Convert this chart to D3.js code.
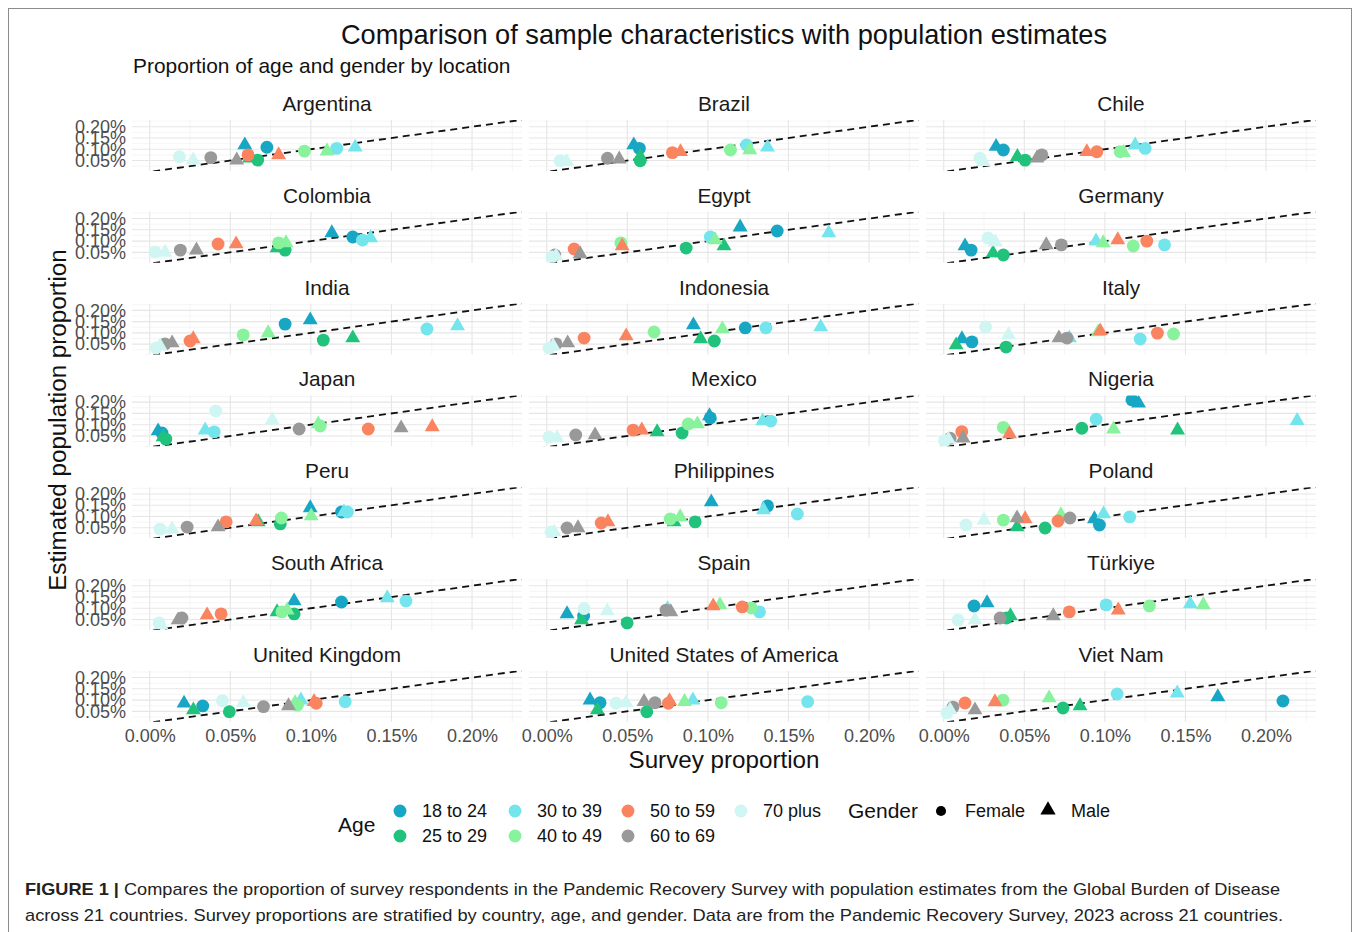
<!DOCTYPE html>
<html>
<head>
<meta charset="utf-8">
<title>Comparison of sample characteristics with population estimates</title>
<script src="https://d3js.org/d3.v7.min.js"></script>
<style>
  body { margin: 0; background: #fff; }
  svg text { font-family: "Liberation Sans", Arial, Helvetica, sans-serif; }
</style>
</head>
<body>
<div id="chart"></div>
<script>
// categories
const countries = ["Argentina", "Brazil", "Chile", "Colombia", "Egypt", "Germany", "India",
  "Indonesia", "Italy", "Japan", "Mexico", "Nigeria", "Peru", "Philippines", "Poland",
  "South Africa", "Spain", "Türkiye", "United Kingdom", "United States of America", "Viet Nam"];
const ageGroups = ["18 to 24", "25 to 29", "30 to 39", "40 to 49", "50 to 59", "60 to 69", "70 plus"];
const ageColors = ["#17a6c4", "#21c27b", "#74e5ec", "#88f29c", "#f9845f", "#999999", "#cff6f3"];
const genders = ["Female", "Male"];
const xTicks = [0, 0.05, 0.10, 0.15, 0.20];
const yTicks = [0.05, 0.10, 0.15, 0.20];

// values in percent, one row per country, columns in ageGroups order
const femaleSurvey = [
  [0.0727, 0.067, 0.116, 0.096, 0.061, 0.0379, 0.0184],
  [0.0575, 0.058, 0.124, 0.114, 0.078, 0.0377, 0.0083],
  [0.037, 0.0505, 0.125, 0.1095, 0.095, 0.0609, 0.0225],
  [0.126, 0.084, 0.132, 0.080, 0.0424, 0.019, 0.0033],
  [0.143, 0.0865, 0.1015, 0.046, 0.017, 0.005, 0.0033],
  [0.017, 0.037, 0.137, 0.1176, 0.126, 0.073, 0.0275],
  [0.084, 0.1077, 0.172, 0.058, 0.025, 0.0095, 0.004],
  [0.1232, 0.104, 0.136, 0.0666, 0.0232, 0.0058, 0.0014],
  [0.0175, 0.0387, 0.1219, 0.1426, 0.1326, 0.0765, 0.026],
  [0.0076, 0.010, 0.040, 0.1058, 0.1356, 0.0927, 0.041],
  [0.1015, 0.084, 0.139, 0.0878, 0.0536, 0.018, 0.0014],
  [0.1168, 0.0857, 0.0946, 0.037, 0.0112, 0.004, 0.0005],
  [0.119, 0.081, 0.1227, 0.0817, 0.0474, 0.0232, 0.0064],
  [0.137, 0.0921, 0.1555, 0.0766, 0.0338, 0.0126, 0.0027],
  [0.0966, 0.0629, 0.1154, 0.037, 0.0709, 0.0783, 0.0138],
  [0.119, 0.0896, 0.159, 0.082, 0.0443, 0.020, 0.0058],
  [0.0229, 0.0499, 0.132, 0.127, 0.1213, 0.074, 0.0232],
  [0.0188, 0.0389, 0.1008, 0.1276, 0.0779, 0.035, 0.0089],
  [0.0329, 0.0494, 0.1213, 0.0917, 0.1033, 0.0706, 0.0451],
  [0.0331, 0.0621, 0.1619, 0.1083, 0.0755, 0.0672, 0.043],
  [0.2105, 0.074, 0.1076, 0.0368, 0.0132, 0.0058, 0.002]
];
const femaleEstimate = [
  [0.109, 0.052, 0.104, 0.092, 0.075, 0.063, 0.067],
  [0.104, 0.049, 0.119, 0.097, 0.085, 0.060, 0.049],
  [0.097, 0.052, 0.104, 0.089, 0.089, 0.075, 0.060],
  [0.118, 0.060, 0.105, 0.092, 0.087, 0.060, 0.052],
  [0.145, 0.069, 0.118, 0.092, 0.065, 0.038, 0.030],
  [0.060, 0.038, 0.083, 0.078, 0.100, 0.083, 0.114],
  [0.139, 0.068, 0.117, 0.091, 0.064, 0.051, 0.033],
  [0.122, 0.064, 0.122, 0.104, 0.077, 0.051, 0.033],
  [0.060, 0.037, 0.073, 0.095, 0.099, 0.077, 0.126],
  [0.063, 0.036, 0.068, 0.094, 0.081, 0.081, 0.161],
  [0.130, 0.063, 0.116, 0.103, 0.076, 0.054, 0.045],
  [0.210, 0.084, 0.124, 0.088, 0.069, 0.040, 0.029],
  [0.120, 0.067, 0.120, 0.093, 0.076, 0.053, 0.044],
  [0.147, 0.076, 0.111, 0.089, 0.071, 0.049, 0.031],
  [0.062, 0.049, 0.098, 0.084, 0.080, 0.093, 0.062],
  [0.128, 0.075, 0.132, 0.084, 0.075, 0.057, 0.035],
  [0.066, 0.035, 0.084, 0.101, 0.106, 0.092, 0.099],
  [0.110, 0.057, 0.115, 0.110, 0.084, 0.057, 0.048],
  [0.074, 0.048, 0.093, 0.078, 0.086, 0.071, 0.097],
  [0.088, 0.048, 0.093, 0.088, 0.086, 0.088, 0.086],
  [0.096, 0.065, 0.127, 0.100, 0.087, 0.069, 0.043]
];
const maleSurvey = [
  [0.059, 0.062, 0.1275, 0.110, 0.080, 0.054, 0.027],
  [0.054, 0.058, 0.137, 0.126, 0.083, 0.045, 0.0124],
  [0.0325, 0.0457, 0.1188, 0.1116, 0.0888, 0.0578, 0.0245],
  [0.113, 0.079, 0.137, 0.0846, 0.0536, 0.029, 0.0095],
  [0.120, 0.110, 0.175, 0.1045, 0.0468, 0.0207, 0.0058],
  [0.0132, 0.0306, 0.0945, 0.099, 0.108, 0.0636, 0.032],
  [0.0996, 0.126, 0.191, 0.0735, 0.027, 0.0139, 0.0064],
  [0.091, 0.0955, 0.170, 0.109, 0.0493, 0.013, 0.004],
  [0.0113, 0.0077, 0.078, 0.0958, 0.0971, 0.0715, 0.0402],
  [0.0052, 0.0083, 0.0344, 0.1046, 0.1753, 0.156, 0.076],
  [0.101, 0.0685, 0.134, 0.0935, 0.059, 0.030, 0.0064],
  [0.1209, 0.1451, 0.2193, 0.1054, 0.0408, 0.012, 0.0029],
  [0.0996, 0.0673, 0.1205, 0.1002, 0.066, 0.0424, 0.0139],
  [0.1021, 0.079, 0.1345, 0.0828, 0.038, 0.0194, 0.0046],
  [0.0935, 0.0455, 0.0992, 0.0727, 0.0505, 0.0455, 0.025],
  [0.0896, 0.079, 0.1474, 0.0853, 0.0356, 0.0176, 0.007],
  [0.0126, 0.0216, 0.075, 0.1075, 0.1033, 0.077, 0.0376],
  [0.0269, 0.0414, 0.153, 0.1611, 0.1083, 0.068, 0.0194],
  [0.0213, 0.0271, 0.0938, 0.0902, 0.102, 0.0861, 0.0581],
  [0.0269, 0.0314, 0.0907, 0.0855, 0.0762, 0.0604, 0.0492],
  [0.1701, 0.0846, 0.1449, 0.0654, 0.0318, 0.0194, 0.004]
];
const maleEstimate = [
  [0.119, 0.060, 0.109, 0.092, 0.075, 0.052, 0.052],
  [0.119, 0.067, 0.109, 0.097, 0.089, 0.056, 0.045],
  [0.112, 0.067, 0.119, 0.085, 0.089, 0.060, 0.045],
  [0.136, 0.069, 0.114, 0.092, 0.087, 0.060, 0.050],
  [0.162, 0.078, 0.136, 0.105, 0.078, 0.043, 0.034],
  [0.078, 0.047, 0.100, 0.092, 0.105, 0.083, 0.096],
  [0.157, 0.077, 0.131, 0.100, 0.073, 0.055, 0.042],
  [0.135, 0.073, 0.126, 0.117, 0.086, 0.055, 0.042],
  [0.073, 0.046, 0.077, 0.104, 0.108, 0.077, 0.091],
  [0.072, 0.045, 0.076, 0.103, 0.090, 0.085, 0.121],
  [0.139, 0.068, 0.116, 0.103, 0.076, 0.054, 0.041],
  [0.195, 0.076, 0.118, 0.080, 0.059, 0.040, 0.035],
  [0.138, 0.076, 0.120, 0.102, 0.080, 0.053, 0.044],
  [0.164, 0.076, 0.129, 0.098, 0.076, 0.049, 0.031],
  [0.089, 0.053, 0.111, 0.107, 0.089, 0.093, 0.084],
  [0.132, 0.084, 0.146, 0.092, 0.070, 0.048, 0.026],
  [0.075, 0.048, 0.097, 0.115, 0.110, 0.084, 0.088],
  [0.124, 0.066, 0.119, 0.115, 0.092, 0.066, 0.048],
  [0.086, 0.056, 0.100, 0.088, 0.093, 0.074, 0.088],
  [0.100, 0.056, 0.100, 0.093, 0.097, 0.093, 0.088],
  [0.114, 0.074, 0.131, 0.109, 0.092, 0.056, 0.056]
];

// layout
const W = 1356, H = 932;
const panelW = 390, panelH = 50.9, colGap = 7, rowStep = 91.8;
const left0 = 132, top0 = 120;

const svg = d3.select("#chart").append("svg")
  .attr("width", W).attr("height", H);

svg.append("rect")
  .attr("x", 8.5).attr("y", 8.5).attr("width", 1343).attr("height", 940)
  .attr("fill", "#fff").attr("stroke", "#8c8c8c").attr("stroke-width", 1);

const x = d3.scaleLinear().domain([-0.011, 0.231]).range([0, panelW]);
const y = d3.scaleLinear().domain([0.004, 0.23]).range([panelH, 0]);
const fmt = d => d.toFixed(2) + "%";

const xMinor = [0.025, 0.075, 0.125, 0.175, 0.225];
const yMinor = [0.025, 0.075, 0.125, 0.175, 0.225];

const circle = d3.symbol().type(d3.symbolCircle).size(130);
const triangle = d3.symbol().type(d3.symbolTriangle).size(96);

countries.forEach((country, i) => {
  const col = i % 3, row = Math.floor(i / 3);
  const px = left0 + col * (panelW + colGap);
  const py = top0 + row * rowStep;
  const g = svg.append("g").attr("transform", `translate(${px},${py})`);

  g.append("defs").append("clipPath").attr("id", "clip" + i)
    .append("rect").attr("width", panelW).attr("height", panelH);

  // grid
  g.selectAll(".gxm").data(xMinor).join("line")
    .attr("x1", d => x(d)).attr("x2", d => x(d)).attr("y1", 0).attr("y2", panelH)
    .attr("stroke", "#f1f1f1").attr("stroke-width", 0.7);
  g.selectAll(".gym").data(yMinor).join("line")
    .attr("y1", d => y(d)).attr("y2", d => y(d)).attr("x1", 0).attr("x2", panelW)
    .attr("stroke", "#f1f1f1").attr("stroke-width", 0.7);
  g.selectAll(".gx").data(xTicks).join("line")
    .attr("x1", d => x(d)).attr("x2", d => x(d)).attr("y1", 0).attr("y2", panelH)
    .attr("stroke", "#e6e6e6").attr("stroke-width", 1.1);
  g.selectAll(".gy").data(yTicks).join("line")
    .attr("y1", d => y(d)).attr("y2", d => y(d)).attr("x1", 0).attr("x2", panelW)
    .attr("stroke", "#e6e6e6").attr("stroke-width", 1.1);

  const inner = g.append("g").attr("clip-path", `url(#clip${i})`);

  // identity line
  inner.append("line")
    .attr("x1", x(-0.02)).attr("y1", y(-0.02))
    .attr("x2", x(0.25)).attr("y2", y(0.25))
    .attr("stroke", "#111").attr("stroke-width", 1.8)
    .attr("stroke-dasharray", "7,5");

  // points
  const pts = [];
  ageGroups.forEach((a, k) => {
    pts.push({ age: k, sex: 0, sx: femaleSurvey[i][k], ey: femaleEstimate[i][k] });
    pts.push({ age: k, sex: 1, sx: maleSurvey[i][k], ey: maleEstimate[i][k] });
  });
  inner.selectAll("path.pt").data(pts).join("path")
    .attr("class", "pt")
    .attr("d", d => d.sex === 0 ? circle() : triangle())
    .attr("transform", d => `translate(${x(d.sx)},${y(d.ey)})`)
    .attr("fill", d => ageColors[d.age]);

  // strip
  g.append("text")
    .attr("x", panelW / 2).attr("y", -9)
    .attr("text-anchor", "middle")
    .attr("font-size", 20.8).attr("fill", "#1a1a1a")
    .text(country);

  if (col === 0) {
    const ya = g.append("g")
      .call(d3.axisLeft(y).tickValues(yTicks).tickFormat(fmt).tickSize(0).tickPadding(6));
    ya.select(".domain").remove();
    ya.selectAll("text").attr("font-size", 18).attr("fill", "#4d4d4d")
      .style("font-family", "'Liberation Sans', Arial, sans-serif");
  }
  if (row === 6) {
    const xa = g.append("g").attr("transform", `translate(0,${panelH})`)
      .call(d3.axisBottom(x).tickValues(xTicks).tickFormat(fmt).tickSize(0).tickPadding(8));
    xa.select(".domain").remove();
    xa.selectAll("text").attr("font-size", 18).attr("fill", "#4d4d4d")
      .style("font-family", "'Liberation Sans', Arial, sans-serif");
  }
});

// titles
svg.append("text").attr("x", 724).attr("y", 44).attr("text-anchor", "middle")
  .attr("font-size", 27.2).attr("fill", "#111")
  .text("Comparison of sample characteristics with population estimates");
svg.append("text").attr("x", 133).attr("y", 73)
  .attr("font-size", 20.9).attr("fill", "#111")
  .text("Proportion of age and gender by location");
svg.append("text").attr("x", 724).attr("y", 768).attr("text-anchor", "middle")
  .attr("font-size", 24.2).attr("fill", "#111")
  .text("Survey proportion");
svg.append("text").attr("transform", "translate(66,420) rotate(-90)")
  .attr("text-anchor", "middle")
  .attr("font-size", 24.2).attr("fill", "#111")
  .text("Estimated population proportion");

// legend
const leg = svg.append("g");
leg.append("text").attr("x", 338).attr("y", 832).attr("font-size", 21).attr("fill", "#111").text("Age");
const keyX = [400, 515, 628, 741];
const keyY = [811, 836];
ageGroups.forEach((a, k) => {
  const c = Math.floor(k / 2), r = k % 2;
  leg.append("path").attr("d", circle())
    .attr("transform", `translate(${keyX[c]},${keyY[r]})`)
    .attr("fill", ageColors[k]);
  leg.append("text").attr("x", keyX[c] + 22).attr("y", keyY[r] + 6)
    .attr("font-size", 18).attr("fill", "#111").text(a);
});
leg.append("text").attr("x", 848).attr("y", 818).attr("font-size", 21).attr("fill", "#111").text("Gender");
leg.append("path").attr("d", d3.symbol().type(d3.symbolCircle).size(80)())
  .attr("transform", "translate(941,811)").attr("fill", "#000");
leg.append("text").attr("x", 965).attr("y", 817).attr("font-size", 18).attr("fill", "#111").text(genders[0]);
leg.append("path").attr("d", d3.symbol().type(d3.symbolTriangle).size(100)())
  .attr("transform", "translate(1048,810)").attr("fill", "#000");
leg.append("text").attr("x", 1071).attr("y", 817).attr("font-size", 18).attr("fill", "#111").text(genders[1]);

// caption
const cap1 = svg.append("text").attr("x", 25).attr("y", 895)
  .attr("font-size", 17).attr("fill", "#222")
  .attr("textLength", 1255).attr("lengthAdjust", "spacingAndGlyphs");
cap1.append("tspan").attr("font-weight", "bold").text("FIGURE 1 | ");
cap1.append("tspan").text("Compares the proportion of survey respondents in the Pandemic Recovery Survey with population estimates from the Global Burden of Disease");
svg.append("text").attr("x", 25).attr("y", 921)
  .attr("font-size", 17).attr("fill", "#222")
  .attr("textLength", 1258).attr("lengthAdjust", "spacingAndGlyphs")
  .text("across 21 countries. Survey proportions are stratified by country, age, and gender. Data are from the Pandemic Recovery Survey, 2023 across 21 countries.");
</script>
</body>
</html>
